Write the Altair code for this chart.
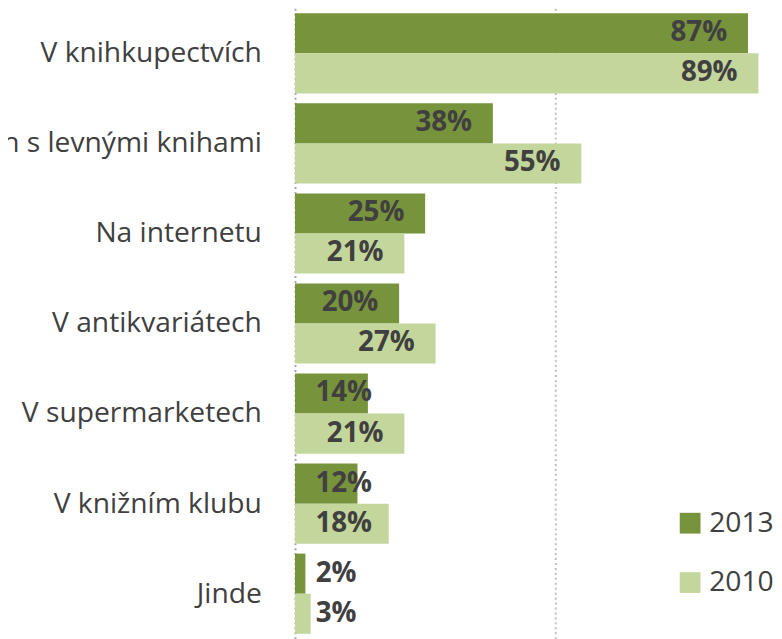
import altair as alt
import pandas as pd

categories = ["V knihkupectvích", "V obchodech s levnými knihami", "Na internetu",
              "V antikvariátech", "V supermarketech", "V knižním klubu", "Jinde"]
years = ["2013", "2010"]
v2013 = [87, 38, 25, 20, 14, 12, 2]
v2010 = [89, 55, 21, 27, 21, 18, 3]
colors = ["#77933C", "#C3D69B"]

rows = []
for c, a, b in zip(categories, v2013, v2010):
    rows.append({"cat": c, "year": "2013", "value": a})
    rows.append({"cat": c, "year": "2010", "value": b})
df = pd.DataFrame(rows)

FONT = "Open Sans"
TXT = "#404040"

y_enc = alt.Y("cat:N", sort=categories, title=None,
              scale=alt.Scale(paddingInner=0.11, paddingOuter=0.055),
              axis=alt.Axis(domain=True, domainColor="#A6A6A6", domainDash=[2, 3],
                            domainWidth=2, ticks=False, labelPadding=34,
                            labelFont=FONT, labelFontSize=28.5, labelColor=TXT,
                            labelLimit=1000, zindex=0))
yoff = alt.YOffset("year:N", sort=years,
                   scale=alt.Scale(paddingInner=0, paddingOuter=0))

bars = alt.Chart(df).mark_bar().encode(
    x=alt.X("value:Q", title=None,
            scale=alt.Scale(domain=[0, 92], nice=False, zero=True),
            axis=alt.Axis(values=[50], grid=True, gridDash=[2, 3], gridWidth=2,
                          gridColor="#BFBFBF", labels=False, ticks=False,
                          domain=False, title=None)),
    y=y_enc,
    yOffset=yoff,
    color=alt.Color("year:N", sort=years,
                    scale=alt.Scale(domain=years, range=colors),
                    legend=alt.Legend(orient="none", legendX=385, legendY=506,
                                      title=None, symbolType="square",
                                      symbolSize=441, symbolStrokeWidth=0,
                                      symbolOpacity=1, labelFont=FONT,
                                      labelFontSize=28.5, labelColor=TXT,
                                      labelOffset=5, rowPadding=31)),
)

labels = alt.Chart(df).transform_calculate(
    lab="datum.value + '%'",
    pos="max(datum.value - 4, 3.8 + (datum.value >= 10 ? 11 : 8))",
).mark_text(align="right", baseline="middle", font=FONT, fontSize=28,
            fontWeight="bold", color=TXT).encode(
    x=alt.X("pos:Q", title=None),
    y=alt.Y("cat:N", sort=categories, title=None),
    yOffset=yoff,
    text="lab:N",
)

chart = alt.layer(bars, labels).properties(
    width=484, height=637,
    autosize=alt.AutoSizeParams(type="none"),
    padding={"left": 290, "top": -3, "right": 0, "bottom": 0},
    background="white",
).configure_view(stroke=None)

chart.save("out.html", embed_options={"renderer": "svg", "actions": False})
